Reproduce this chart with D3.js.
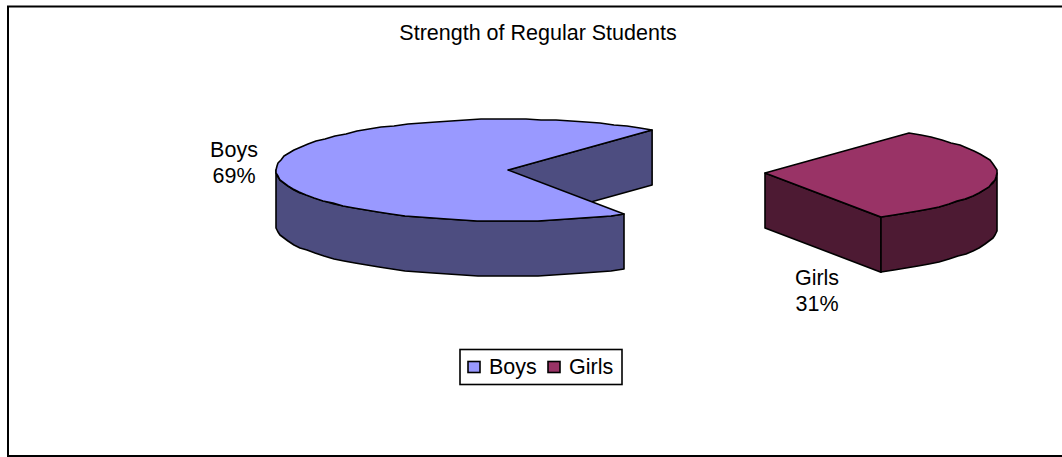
<!DOCTYPE html>
<html><head><meta charset="utf-8">
<script src="https://cdn.jsdelivr.net/npm/d3@7"></script>
<style>html,body{margin:0;padding:0;background:#fff}svg{display:block}text{font-family:"Liberation Sans",Arial,sans-serif;fill:#000}</style>
</head><body><div id="chart"></div>
<script>
const categories = ["Boys", "Girls"];
const values = [69, 31];
const percentLabels = ["69%", "31%"];
const topColors = ["#9999ff", "#993366"];
const sideColors = ["#4d4d80", "#4d1a33"];
const titleText = "Strength of Regular Students";

const W = 1062, H = 457;
const svg = d3.select("#chart").append("svg").attr("width", W).attr("height", H);

// chart frame
svg.append("path").attr("d", "M8 457V6.5H1062").attr("fill", "none").attr("stroke", "#000").attr("stroke-width", 2);
svg.append("line").attr("x1", 8).attr("x2", 1062).attr("y1", 456).attr("y2", 456).attr("stroke", "#000").attr("stroke-width", 2);

svg.append("text").attr("x", 538).attr("y", 40).attr("text-anchor", "middle").attr("font-size", 21.5).text(titleText);

// flattened circle; each slice is placed by its own apex
const rx = 232, ry = 51, depth = 55;
const centres = [[508, 170], [765, 173]];
const TAU = Math.PI * 2;
const startFrac = 150 / 360;
const pie = d3.pie().sort(null).startAngle(TAU * startFrac).endAngle(TAU * (startFrac + 1));
const arcs = pie(values);

const project = (c, a, z = 0) => {
  const sx = d3.scaleLinear().domain([-1, 1]).range([c[0] - rx, c[0] + rx]);
  const sy = d3.scaleLinear().domain([-1, 1]).range([c[1] - ry + z, c[1] + ry + z]);
  return [sx(Math.sin(a)), sy(-Math.cos(a))];
};
const line = d3.line();
const rim = (c, a0, a1, z = 0) => {
  const n = Math.max(2, Math.round((a1 - a0) / (Math.PI / 48)));
  return d3.range(n + 1).map(i => {
    const p = project(c, a0 + (a1 - a0) * i / n, z);
    return [Math.round(p[0]), Math.round(p[1])];
  });
};
const draw = (g, pts, fill) => g.append("path").attr("d", line(pts) + "Z").attr("fill", fill)
  .attr("stroke", "#000").attr("stroke-width", 1.6).attr("stroke-linejoin", "round");
const band = (c, a0, a1) => rim(c, a0, a1).concat(rim(c, a0, a1, depth).reverse());

// Boys
{
  const s = arcs[0], c = centres[0], g = svg.append("g");
  const far = project(c, s.endAngle);
  draw(g, [c, far, project(c, s.endAngle, depth), [c[0], c[1] + depth]], sideColors[0]);
  draw(g, band(c, s.startAngle, TAU * 0.75), sideColors[0]);
  draw(g, [c].concat(rim(c, s.startAngle, s.endAngle)), topColors[0]);
}
// Girls
{
  const s = arcs[1], c = centres[1], g = svg.append("g");
  const a0 = s.startAngle - TAU, a1 = s.endAngle - TAU;
  draw(g, [c, [c[0], c[1] + depth], project(c, a1, depth), project(c, a1)], sideColors[1]);
  draw(g, band(c, TAU * 0.25, a1), sideColors[1]);
  draw(g, [c].concat(rim(c, a0, a1)), topColors[1]);
}

// data labels
const labelPos = [[234, 157], [817, 285]];
categories.forEach((name, i) => {
  const t = svg.append("text").attr("text-anchor", "middle").attr("font-size", 21.5);
  t.append("tspan").attr("x", labelPos[i][0]).attr("y", labelPos[i][1]).text(name);
  t.append("tspan").attr("x", labelPos[i][0]).attr("y", labelPos[i][1] + 26).text(percentLabels[i]);
});

// legend
const lg = svg.append("g");
lg.append("rect").attr("x", 460).attr("y", 349.5).attr("width", 162).attr("height", 35).attr("fill", "#fff").attr("stroke", "#000").attr("stroke-width", 1.6);
const lx = d3.scalePoint().domain(categories).range([468, 548]);
categories.forEach((name, i) => {
  lg.append("rect").attr("x", lx(name)).attr("y", 361.5).attr("width", 12).attr("height", 11).attr("fill", topColors[i]).attr("stroke", "#000").attr("stroke-width", 1.6);
  lg.append("text").attr("x", lx(name) + 21).attr("y", 374).attr("font-size", 21.5).text(name);
});
</script></body></html>
